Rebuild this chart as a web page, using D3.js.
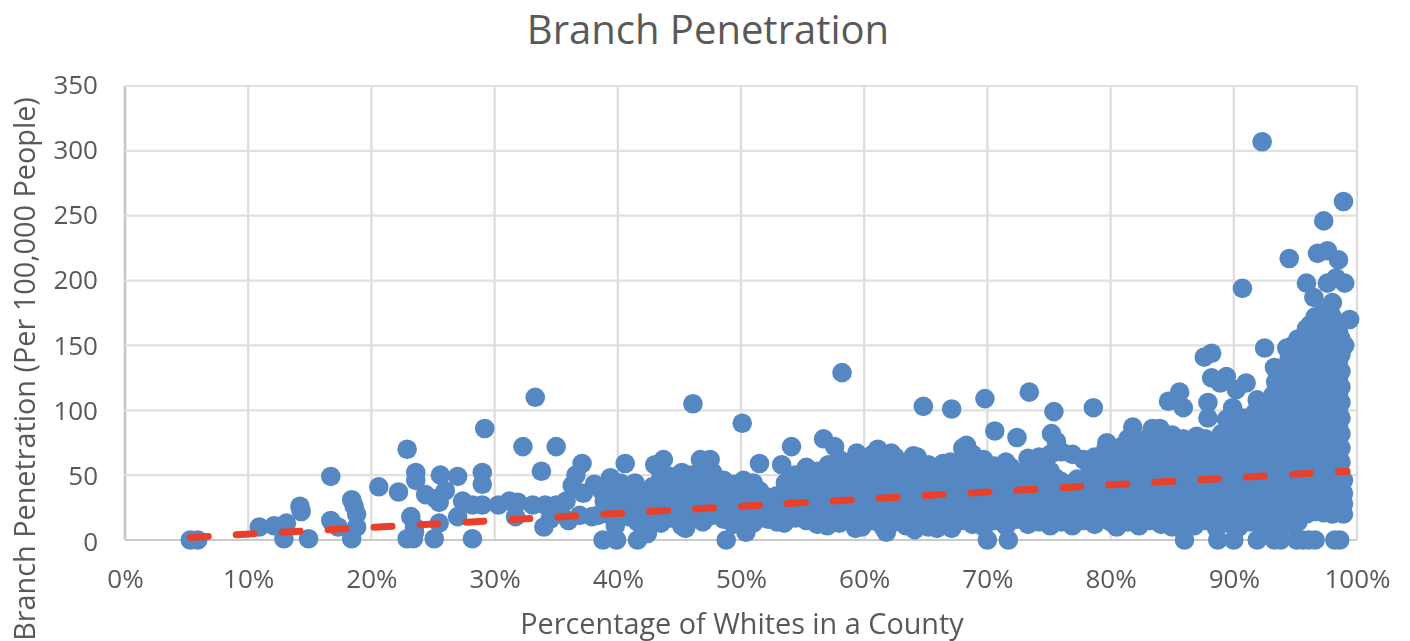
<!DOCTYPE html>
<html><head><meta charset="utf-8">
<script src="https://cdn.jsdelivr.net/npm/d3@7"></script>
<style>html,body{margin:0;padding:0;background:#fff;overflow:hidden}text{font-family:"Open Sans",sans-serif;fill:#595959}</style>
</head><body><svg id="c" width="1410" height="641"></svg>
<script>
const chartTitle = "Branch Penetration";
const xAxisTitle = "Percentage of Whites in a County";
const yAxisTitle = "Branch Penetration (Per 100,000 People)";
const xTickValues = [0,10,20,30,40,50,60,70,80,90,100];
const yTickValues = [0,50,100,150,200,250,300,350];
const trendX = [5.3,30,50,70,99.2];
const trendY = [2,15,26,37,53];

const sparseLeft = [[5.3,0],[5.9,0],[10.9,10],[12.1,11],[13.1,13],[12.9,1],[14.9,1],[14.2,26],[14.3,22],[16.7,49],[16.7,15],[17.3,10],[18.4,31],[18.6,26],[18.8,20],[18.8,10],[18.4,1],[20.6,41],[22.2,37],[22.9,70],[23.2,18],[23.5,10],[22.9,1],[23.4,1],[23.5,6],[23.6,52],[23.6,46],[24.4,35],[25.2,32],[25.5,29],[25.6,50],[26,38],[25.5,13],[25.1,1],[27,49],[27,18],[27.4,30],[28.2,1],[28.2,27],[29,52],[29,43],[29,27],[29.2,86],[30.3,27],[31.2,30],[31.9,29],[31.7,18],[32.3,72],[33.3,110],[33.1,27],[33.8,53],[34,10],[34.1,27],[35,72]];
const outliers = [[37.1,59],[40.6,59],[43,58],[43.7,62],[46.1,105],[46.7,62],[47.5,62],[50.1,90],[51.5,59],[53.3,58],[54.1,72],[56.7,78],[57.6,72],[58.2,129],[59.4,67],[61.1,70],[62.2,67],[64,65],[64.8,103],[67.1,101],[66.4,59],[68.3,73],[68,71],[69.8,109],[70.6,84],[72.4,79],[73.4,114],[75.4,99],[75.2,82],[75.6,76],[78.6,102],[79.7,75],[81.8,87],[83.4,86],[84,86],[85,81],[87,80],[85.6,114],[84.7,107],[85.9,102],[87.9,106],[87.9,94],[87.6,141],[88.2,144],[88.2,125],[88.9,121],[89.4,126],[91,121],[90.2,116],[89.9,102],[89.4,93],[89.5,85],[91.9,108],[93.2,112],[92.5,148],[94.3,148],[93.3,133],[90.7,194],[92.3,307],[94.5,217],[95.9,198],[96.5,187],[96.8,221],[97.6,223],[97.3,246],[98.5,216],[98.9,261],[97.6,198],[98.3,202],[99,198],[98,183],[99.4,170],[97.2,170],[99,150]];
const zeroRow = [38.8,39.9,41.6,48.8,70,71.7,86,88.7,90,91.9,93.3,93.8,95.1,95.6,96.1,96.6,98.2,98.6];
const cloudLow = [[34.5,16],[35,27],[35.4,20],[35.8,30],[36,15],[36.3,42],[36.6,50],[36.9,19],[37.2,36],[37.9,18],[38.1,43],[38.4,19],[38.7,38],[38.9,30],[39.2,20],[39.4,48],[39.6,36],[39.8,11],[40,27],[40.2,44],[40.7,34],[40.9,18],[41.2,27],[41.4,44],[41.6,14],[42.4,5],[45.5,9],[50.4,6],[53.5,13],[57,11],[59.3,9],[61.8,6],[64.1,8],[65.9,9],[67.1,9]];
const cloudColumns = [
[41.9,[12,24,36]],[42.8,[19,30,41]],[43.5,[13,26,48]],[44.3,[17,33,40,49]],[45.2,[11,22,30,45,52]],[46,[16,27,38,50]],[46.9,[14,24,34,44,55]],[47.7,[19,29,40,52]],[48.6,[16,26,36,46]],[49.4,[12,22,31,43]],[50.2,[18,28,38,46]],[51,[13,24,34,44]],[52.2,[16,26,33]],[52.9,[14,24,34]],[53.6,[22,32,44]],[54.4,[17,27,37,50]],[55.3,[15,25,35,46,56]],[56.2,[12,22,32,42,53]],[57.1,[16,27,38,48,58]],[58,[13,23,33,43,54,62]],[58.9,[17,28,38,49,60]],[59.8,[10,20,31,42,52,63]],[60.7,[15,25,36,47,58,66]],[61.6,[9,20,30,41,52,62]],[62.5,[14,24,35,46,56,64]],[63.4,[11,21,31,42,53,60]],[64.3,[16,26,37,48,58,64]],[65.2,[10,20,30,41,51,58]],[66.1,[14,24,35,46,56]],[67,[11,21,31,41,52,60]],[67.9,[15,26,37,48,58]],[68.8,[12,22,33,44,54,66]],[69.7,[10,19,30,41,52,62]],[70.6,[15,25,36,47,57]],[71.5,[11,21,31,42,53,60]],[72.4,[16,26,37,48]],[73.3,[12,22,33,44,55,63]],[74.2,[14,24,35,46,57,64]],[75.1,[11,21,31,42,53,66]],[76,[14,24,35,45,68]],[76.9,[11,21,31,42,66]],[77.8,[15,25,36,47,62]],[78.7,[12,22,33,44,56,64]],[79.6,[16,26,37,48,60,70]],[80.5,[10,20,30,41,52,62,70]],[81.4,[14,24,35,46,58,68,78]],[82.3,[11,21,31,42,54,66,76]],[83.2,[15,25,36,47,59,70,80]],[84.1,[12,22,33,44,56,68,78]],[85,[10,19,30,41,52,63,74]],[85.9,[14,24,35,46,58,70,78]],[86.8,[11,21,31,42,54,66,76]],[87.7,[15,25,36,47,59,70,78]],[88.6,[9,19,30,41,52,64,74]],[89.5,[13,23,34,45,57,68,77]],[90.4,[10,20,31,42,53,65,76,84]],[91.3,[14,24,35,46,58,70,82,92]],[92.2,[10,21,32,43,55,67,79,90]],[93.1,[13,23,34,46,58,70,82,94,104]],[93.8,[10,20,31,43,55,67,79,91,103,115,125]],
[94.5,[12,22,33,44,55,66,77,88,99,110,121,132,140]],[95.2,[14,25,36,47,58,69,80,91,102,113,124,135,146,155]],[95.9,[20,31,42,53,64,75,86,97,108,119,130,141,152,163]],[96.6,[22,33,44,55,66,77,88,99,110,121,132,143,154,165,172]],[97.3,[21,32,43,54,65,76,87,98,109,120,131,142,153,164,176]],[98,[20,30,41,52,63,74,85,96,107,118,129,140,151,162,172]],[98.5,[22,33,44,55,66,77,88,100,112,125,138,150,160]],[98.9,[20,28,36,46]]
];
const cloudFill = [
[42.4,[25,36]],[43.1,[20,37]],[43.9,[22,33]],[44.8,[16,28,39]],[45.6,[20,36]],[46.5,[21,33,44]],[47.3,[24,36,47]],[48.1,[22,33,44]],[49,[19,29,39]],[49.8,[17,26,36]],[50.6,[21,32,41]],[51.5,[19,29,38]],[53.2,[19,28]],[54,[18,24,36]],[54.9,[20,31,42]],[55.7,[18,29,41,51]],[56.6,[21,33,45]],[57.5,[19,32,43,53]],[58.4,[18,28,38,48,56]],[59.3,[15,25,36,47,57]],[60.2,[17,26,37,48,58]],[61.1,[14,25,36,46,57]],[62,[17,29,41,51,60]],[62.9,[18,29,40,50]],[63.8,[16,26,36,47,56]],[64.7,[14,24,34,45,54]],[65.6,[17,28,39,50]],[66.5,[17,29,40,51]],[67.4,[16,27,38,48,56]],[68.3,[19,30,41,50,60]],[69.2,[16,27,38,49,58]],[70.1,[17,26,36,46,56]],[71,[18,29,40,50]],[71.9,[15,26,37,48,56]],[72.8,[20,31,42,52]],[73.7,[17,28,39,50,58]],[74.6,[18,29,40,51,60]],[75.5,[16,26,37,48]],[76.4,[18,29,39]],[77.3,[17,27,37,47]],[78.2,[18,29,40,50]],[79.1,[18,29,40,52,62]],[80,[14,24,35,46,56,66]],[80.9,[18,28,38,49,60,72]],[81.8,[18,30,41,52,62,72]],[82.7,[17,27,38,49,60,72]],[83.6,[20,31,42,53,64,74]],[84.5,[17,27,38,49,60,72]],[85.4,[17,28,38,49,60,72]],[86.3,[19,30,41,52,64,74]],[87.2,[18,28,39,50,61,72]],[88.1,[20,31,42,53,65,75]],[89,[16,27,38,49,60,72,82]],[89.9,[18,29,40,51,62,74,80]],[90.8,[17,28,39,50,61,72,84,94]],[91.7,[18,30,41,52,64,76,88,98]],[92.6,[16,28,39,50,62,74,86,98,106]],[93.4,[16,27,39,51,63,75,87,99,110,122]],[94.1,[16,26,37,49,61,73,85,97,109,120,132]],[94.8,[18,28,39,50,61,72,83,94,105,116,127,138,150]],[95.5,[22,33,44,55,66,77,88,99,110,121,132,143,154]],[96.2,[25,36,47,58,69,80,91,102,113,124,135,146,157,166]],[96.9,[24,35,46,57,68,79,90,101,112,123,134,145,156,168]],[97.6,[24,35,46,57,68,79,90,101,112,123,134,145,156,167,175]],[98.25,[25,36,47,58,69,80,91,102,113,124,135,146,157,166]],[98.7,[28,38,50,60,71,82,94,106,118,130,143,155]]
];

const W=1410,H=641,L=125,R=1357,T=86,B=540;
const x=d3.scaleLinear().domain([0,100]).range([L,R]);
const y=d3.scaleLinear().domain([0,350]).range([B,T]);
const yLabel=d3.scaleLinear().domain([0,350]).range([550,93]);
const svg=d3.select("#c");
const defs=svg.append("defs");
defs.append("filter").attr("id","soft").append("feGaussianBlur").attr("stdDeviation",0.7);
defs.append("filter").attr("id","softText").append("feGaussianBlur").attr("stdDeviation",0.45);

const grid=svg.append("g").attr("filter","url(#soft)");
grid.selectAll("line.v").data(xTickValues).join("line").attr("x1",d=>x(d)).attr("x2",d=>x(d)).attr("y1",T).attr("y2",B).attr("stroke",d=>d===0?"#c6c6c6":"#dcdcdc").attr("stroke-width",d=>d===0?2.6:2.2);
grid.selectAll("line.h").data(yTickValues).join("line").attr("y1",d=>y(d)).attr("y2",d=>y(d)).attr("x1",L).attr("x2",R).attr("stroke",d=>d===0?"#cacaca":"#e0e0e0").attr("stroke-width",2.2);

const flatten=cols=>cols.flatMap(([cx,ys])=>ys.map(v=>[cx,v]));
const points=[...sparseLeft,...outliers,...zeroRow.map(v=>[v,0]),...cloudLow,...flatten(cloudColumns),...flatten(cloudFill)];
const marks=svg.append("g").attr("filter","url(#soft)");
marks.selectAll("circle").data(points).join("circle").attr("cx",d=>x(d[0])).attr("cy",d=>y(d[1])).attr("r",9.8).attr("fill","#5588c3");
marks.append("path").datum(d3.zip(trendX,trendY)).attr("d",d3.line().x(d=>x(d[0])).y(d=>y(d[1]))).attr("fill","none").attr("stroke","#e8412a").attr("stroke-width",7).attr("stroke-linecap","round").attr("stroke-dasharray","18 28");

const tickFont=26;
const xAxis=svg.append("g").attr("transform",`translate(0,${B})`).attr("filter","url(#softText)").call(d3.axisBottom(x).tickValues(xTickValues).tickFormat(d=>d+"%").tickSize(0).tickPadding(30));
const yAxis=svg.append("g").attr("transform",`translate(${L},0)`).attr("filter","url(#softText)").call(d3.axisLeft(y).tickValues(yTickValues).tickSize(0).tickPadding(27));
[xAxis,yAxis].forEach(a=>{a.select(".domain").remove();a.selectAll("text").attr("font-size",tickFont).style("font-family",'"Open Sans",sans-serif').style("fill","#595959");});
xAxis.selectAll("text").attr("dy",0).attr("y",48);
yAxis.selectAll("text").attr("dy",0).attr("y",d=>yLabel(d)-y(d));

svg.append("text").attr("x",708).attr("y",44).attr("text-anchor","middle").attr("font-size",40).text(chartTitle);
svg.append("text").attr("x",742).attr("y",634).attr("text-anchor","middle").attr("font-size",28.8).attr("filter","url(#softText)").text(xAxisTitle);
svg.append("text").attr("transform","translate(35,369) rotate(-90)").attr("text-anchor","middle").attr("font-size",28.8).attr("filter","url(#softText)").text(yAxisTitle);
</script></body></html>
